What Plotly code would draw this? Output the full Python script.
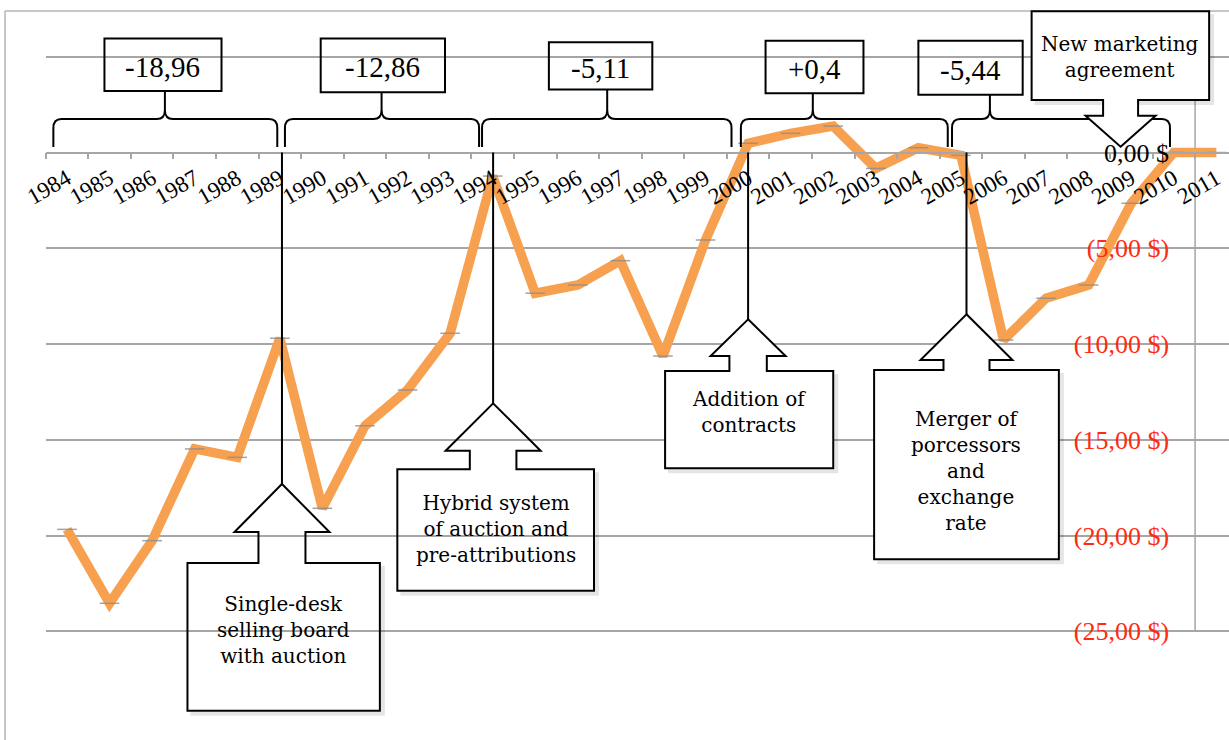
import plotly.graph_objects as go

# ---------------- data ----------------
years = list(range(1984, 2012))
values = [-19.68, -23.54, -20.27, -15.48, -15.92, -9.70, -18.58, -14.27, -12.40, -9.44,
          -1.23, -7.35, -6.92, -5.65, -10.63, -4.57, 0.48, 1.00, 1.38, -0.83,
          0.25, -0.15, -9.79, -7.61, -6.92, -2.65, 0.00, 0.00]

y_ticks = [-25, -20, -15, -10, -5, 0, 5]

period_labels = ["-18,96", "-12,86", "-5,11", "+0,4", "-5,44"]
event_labels = [
    "Single-desk<br>selling board<br>with auction",
    "Hybrid system<br>of auction and<br>pre-attributions",
    "Addition of<br>contracts",
    "Merger of<br>porcessors<br>and<br>exchange<br>rate",
    "New marketing<br>agreement",
]

# ---------------- geometry ----------------
W, H = 1229, 740
X0_PX = 45.7          # left edge of plot area
YEAR_PX = 42.57       # width of one category
ZERO_PX = 152.5       # vertical pixel of the 0 line
UNIT_PX = 19.15       # pixels per dollar

x_range = [years[0] - 0.5, years[0] - 0.5 + (W - X0_PX) / YEAR_PX]
y_range = [-(H - ZERO_PX) / UNIT_PX, ZERO_PX / UNIT_PX]


def dx(p):
    return p / YEAR_PX


def dy(p):
    return p / UNIT_PX


def pt(x, y):
    return f"{x:.4f},{y:.4f}"


GRID = "#A6A6A6"
ORANGE = "#F7A04F"
RED = "#FF2A10"
SERIF = "Liberation Serif"
CALLOUT_FONT = "DejaVu Serif"


def ytext(v):
    if v < 0:
        return f"({abs(v)},00 $)"
    if v == 0:
        return '<span style="color:black">0,00 $</span>'
    return ""   # the top label sits under the agreement callout


fig = go.Figure()

fig.add_trace(go.Scatter(
    x=years, y=values, mode="lines+markers",
    line=dict(color=ORANGE, width=9.5),
    marker=dict(symbol="line-ew", size=14, color="rgba(140,140,140,0.8)",
                line=dict(color="rgba(140,140,140,0.8)", width=1.5)),
    hoverinfo="x+y", cliponaxis=False,
))

shapes = []
annotations = []

# chart frame
shapes.append(dict(type="line", xref="paper", yref="paper", x0=5 / W, x1=5 / W,
                   y0=0, y1=1 - 11 / H, line=dict(color="#B4B4B4", width=1.5)))
shapes.append(dict(type="line", xref="paper", yref="paper", x0=5 / W, x1=1,
                   y0=1 - 11 / H, y1=1 - 11 / H, line=dict(color="#B4B4B4", width=1.5)))

# value axis line, crossing between the last two categories
shapes.append(dict(type="line", xref="x", yref="y", x0=years[-1] - 0.5, x1=years[-1] - 0.5,
                   y0=y_ticks[0], y1=y_ticks[-1], line=dict(color=GRID, width=1.5),
                   layer="below"))

# ---------------- period braces with value boxes ----------------
braces = [  # (left, right, cusp) in years
    (1983.68, 1988.94, 1986.30),
    (1989.12, 1993.68, 1991.39),
    (1993.75, 1999.61, 1996.69),
    (1999.83, 2004.69, 2001.52),
    (2004.79, 2009.91, 2005.68),
]
boxes = [  # (x0, x1) in years, (top, bottom) in px
    (1984.88, 1987.63, 38.5, 91.0),
    (1989.96, 1992.88, 38.5, 92.3),
    (1995.32, 1997.75, 42.3, 89.5),
    (2000.41, 2002.71, 40.7, 93.3),
    (2004.00, 2006.45, 40.7, 94.7),
]
yb = dy(ZERO_PX - 147)
yh = dy(ZERO_PX - 119)
for (xl, xr, xc), (bx0, bx1, bt, bb), lab in zip(braces, boxes, period_labels):
    ytop = dy(ZERO_PX - bb)
    r = dx(8)
    v = dy(9)
    path = (f"M {pt(xl, yb)} L {pt(xl, yh - v)} Q {pt(xl, yh)} {pt(xl + r, yh)} "
            f"L {pt(xc - r, yh)} Q {pt(xc, yh)} {pt(xc, yh + v)} L {pt(xc, ytop)} "
            f"L {pt(xc, yh + v)} Q {pt(xc, yh)} {pt(xc + r, yh)} "
            f"L {pt(xr - r, yh)} Q {pt(xr, yh)} {pt(xr, yh - v)} L {pt(xr, yb)}")
    shapes.append(dict(type="path", xref="x", yref="y", path=path,
                       line=dict(color="black", width=2), layer="above"))
    shapes.append(dict(type="rect", xref="x", yref="y", x0=bx0, x1=bx1,
                       y0=dy(ZERO_PX - bt), y1=dy(ZERO_PX - bb),
                       line=dict(color="black", width=2), layer="above"))
    annotations.append(dict(x=(bx0 + bx1) / 2, y=dy(ZERO_PX - (bt + bb) / 2 - 2),
                            xref="x", yref="y", text=lab, showarrow=False,
                            font=dict(family=SERIF, size=29, color="black"),
                            xanchor="center", yanchor="middle"))

# ---------------- event callouts ----------------
# (centre year, tip, head base, neck end, box end, head half px, neck half px,
#  box x0, box x1, text y, filled, pointing)
callouts = [
    (1989.05, -17.31, -19.82, -21.44, -29.15, 47.5, 23.5, 1986.83, 1991.35, -24.95, False, "up"),
    (1994.01, -13.10, -15.57, -16.54, -22.88, 47.5, 23.3, 1991.76, 1996.38, -19.65, False, "up"),
    (2000.00, -8.71, -10.63, -11.41, -16.49, 37.5, 18.7, 1998.05, 2002.00, -13.55, True, "up"),
    (2005.13, -8.45, -10.84, -11.36, -21.24, 46.0, 23.0, 2002.96, 2007.30, -16.62, True, "up"),
    (2008.75, 0.30, 1.92, 2.74, 7.37, 35.0, 17.5, 2006.66, 2010.83, 5.00, True, "down"),
]
for (cx, tip, hb, nb, bb, hh, nh, bx0, bx1, ty, filled, d), lab in zip(callouts, event_labels):
    hh, nh = dx(hh), dx(nh)
    path = (f"M {pt(cx, tip)} L {pt(cx + hh, hb)} L {pt(cx + nh, hb)} L {pt(cx + nh, nb)} "
            f"L {pt(bx1, nb)} L {pt(bx1, bb)} L {pt(bx0, bb)} L {pt(bx0, nb)} "
            f"L {pt(cx - nh, nb)} L {pt(cx - nh, hb)} L {pt(cx - hh, hb)} Z")
    # soft drop shadow along the lower and right edges of the box
    low = bb if d == "up" else nb
    high = nb if d == "up" else bb
    shadow = (f"M {pt(bx0 + dx(3), low - dy(3))} L {pt(bx1 + dx(3), low - dy(3))} "
              f"L {pt(bx1 + dx(3), high - dy(3))}")
    shapes.append(dict(type="path", xref="x", yref="y", path=shadow,
                       line=dict(color="rgba(0,0,0,0.10)", width=4), layer="above"))
    if d == "up":
        shapes.append(dict(type="line", xref="x", yref="y", x0=cx, x1=cx, y0=0, y1=tip,
                           line=dict(color="black", width=2), layer="above"))
    shapes.append(dict(type="path", xref="x", yref="y", path=path,
                       fillcolor="white" if filled else "rgba(0,0,0,0)",
                       line=dict(color="black", width=2), layer="above"))
    annotations.append(dict(x=(bx0 + bx1) / 2, y=ty, xref="x", yref="y", text=lab,
                            showarrow=False, align="center",
                            font=dict(family=CALLOUT_FONT, size=20, color="black"),
                            xanchor="center", yanchor="middle"))

fig.update_layout(
    width=W, height=H,
    margin=dict(l=0, r=0, t=0, b=0, autoexpand=False),
    paper_bgcolor="white", plot_bgcolor="white",
    showlegend=False,
    shapes=shapes, annotations=annotations,
    xaxis=dict(
        domain=[X0_PX / W, 1], range=x_range, anchor="free", position=1 - ZERO_PX / H,
        automargin=False,
        showline=True, linecolor=GRID, linewidth=1.5, showgrid=False, zeroline=False,
        tickmode="array", tickvals=years, ticktext=[str(y) for y in years],
        ticks="", tickangle=-30, ticklabelstandoff=3,
        tickfont=dict(family=SERIF, size=23, color="black"),
        minor=dict(tickmode="linear", tick0=years[0] - 0.5, dtick=1, ticks="outside",
                   ticklen=6, tickwidth=1.5, tickcolor=GRID, showgrid=False),
    ),
    yaxis=dict(
        domain=[0, 1], range=y_range, anchor="free",
        position=X0_PX / W + (years[-1] - 0.5 - x_range[0]) * YEAR_PX / W,
        automargin=False,
        side="left", showline=False, zeroline=False,
        showgrid=True, gridcolor=GRID, gridwidth=1.5,
        tickmode="array", tickvals=y_ticks, ticktext=[ytext(v) for v in y_ticks],
        ticks="", ticklabelstandoff=26,
        tickfont=dict(family=SERIF, size=26, color=RED),
    ),
)

fig.write_html("out.html")
